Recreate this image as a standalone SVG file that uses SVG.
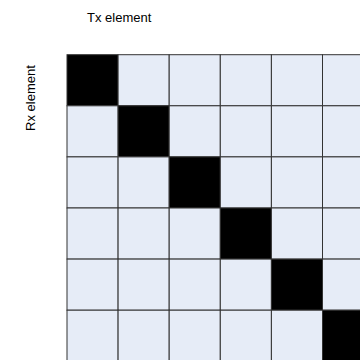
<svg xmlns="http://www.w3.org/2000/svg" width="360" height="360" viewBox="0 0 360 360">
<style>
.c{fill:#e6ecf7;stroke:#333;stroke-width:1}
.d{fill:#000;stroke:#333;stroke-width:1}
.t{font-family:"Liberation Sans",Arial,sans-serif;font-size:13px;fill:#000}
</style>
<rect width="360" height="360" fill="#fff"/>
<text class="t" x="87" y="22">Tx element</text>
<text class="t" transform="translate(35,98) rotate(-90)" text-anchor="middle">Rx element</text>
<g id="grid">
<rect class="d" x="67" y="54.7" width="51.1" height="51.1"/>
<rect class="c" x="118.1" y="54.7" width="51.1" height="51.1"/>
<rect class="c" x="169.2" y="54.7" width="51.1" height="51.1"/>
<rect class="c" x="220.3" y="54.7" width="51.1" height="51.1"/>
<rect class="c" x="271.4" y="54.7" width="51.1" height="51.1"/>
<rect class="c" x="322.5" y="54.7" width="51.1" height="51.1"/>
<rect class="c" x="67" y="105.8" width="51.1" height="51.1"/>
<rect class="d" x="118.1" y="105.8" width="51.1" height="51.1"/>
<rect class="c" x="169.2" y="105.8" width="51.1" height="51.1"/>
<rect class="c" x="220.3" y="105.8" width="51.1" height="51.1"/>
<rect class="c" x="271.4" y="105.8" width="51.1" height="51.1"/>
<rect class="c" x="322.5" y="105.8" width="51.1" height="51.1"/>
<rect class="c" x="67" y="156.9" width="51.1" height="51.1"/>
<rect class="c" x="118.1" y="156.9" width="51.1" height="51.1"/>
<rect class="d" x="169.2" y="156.9" width="51.1" height="51.1"/>
<rect class="c" x="220.3" y="156.9" width="51.1" height="51.1"/>
<rect class="c" x="271.4" y="156.9" width="51.1" height="51.1"/>
<rect class="c" x="322.5" y="156.9" width="51.1" height="51.1"/>
<rect class="c" x="67" y="208" width="51.1" height="51.1"/>
<rect class="c" x="118.1" y="208" width="51.1" height="51.1"/>
<rect class="c" x="169.2" y="208" width="51.1" height="51.1"/>
<rect class="d" x="220.3" y="208" width="51.1" height="51.1"/>
<rect class="c" x="271.4" y="208" width="51.1" height="51.1"/>
<rect class="c" x="322.5" y="208" width="51.1" height="51.1"/>
<rect class="c" x="67" y="259.1" width="51.1" height="51.1"/>
<rect class="c" x="118.1" y="259.1" width="51.1" height="51.1"/>
<rect class="c" x="169.2" y="259.1" width="51.1" height="51.1"/>
<rect class="c" x="220.3" y="259.1" width="51.1" height="51.1"/>
<rect class="d" x="271.4" y="259.1" width="51.1" height="51.1"/>
<rect class="c" x="322.5" y="259.1" width="51.1" height="51.1"/>
<rect class="c" x="67" y="310.2" width="51.1" height="51.1"/>
<rect class="c" x="118.1" y="310.2" width="51.1" height="51.1"/>
<rect class="c" x="169.2" y="310.2" width="51.1" height="51.1"/>
<rect class="c" x="220.3" y="310.2" width="51.1" height="51.1"/>
<rect class="c" x="271.4" y="310.2" width="51.1" height="51.1"/>
<rect class="d" x="322.5" y="310.2" width="51.1" height="51.1"/>
</g>
</svg>
